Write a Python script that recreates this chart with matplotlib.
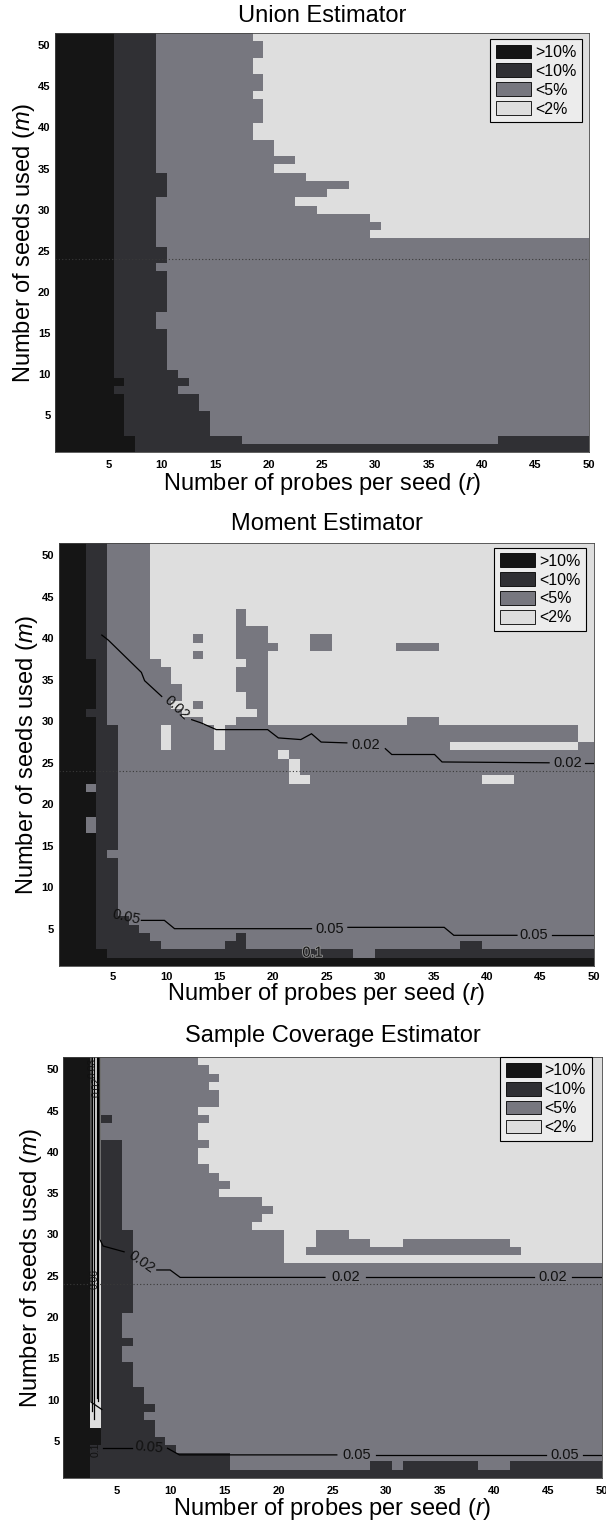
import numpy as np
import matplotlib
matplotlib.use("Agg")
import matplotlib.pyplot as plt
from matplotlib.colors import ListedColormap, BoundaryNorm
from matplotlib.patches import Patch
import matplotlib.patheffects as pe

plt.rcParams['font.family'] = ['Liberation Sans', 'DejaVu Sans']
plt.rcParams['mathtext.fontset'] = 'custom'
plt.rcParams['mathtext.it'] = 'Liberation Sans:italic'
plt.rcParams['mathtext.rm'] = 'Liberation Sans'

W, H, DPI = 606, 1527, 100

# grid axes
probes = np.arange(1, 51)   # r
seeds = np.arange(1, 52)    # m
tick_values = [5, 10, 15, 20, 25, 30, 35, 40, 45, 50]

# error classes (0 worst .. 3 best)
level_labels = ['>10%', '<10%', '<5%', '<2%']
level_colors = ['#151515', '#303034', '#77777f', '#dedede']

# Each row: "level@last_column" runs, listed from the top row (m=51) down to m=1.
union_rows = [
    (1, "0@5 1@9 2@18 3@50"),
    (2, "0@5 1@9 2@19 3@50"),
    (2, "0@5 1@9 2@18 3@50"),
    (2, "0@5 1@9 2@19 3@50"),
    (1, "0@5 1@9 2@18 3@50"),
    (3, "0@5 1@9 2@19 3@50"),
    (2, "0@5 1@9 2@18 3@50"),
    (2, "0@5 1@9 2@20 3@50"),
    (1, "0@5 1@9 2@22 3@50"),
    (1, "0@5 1@9 2@20 3@50"),
    (1, "0@5 1@10 2@23 3@50"),
    (1, "0@5 1@10 2@27 3@50"),
    (1, "0@5 1@10 2@25 3@50"),
    (1, "0@5 1@9 2@22 3@50"),
    (1, "0@5 1@9 2@24 3@50"),
    (1, "0@5 1@9 2@29 3@50"),
    (1, "0@5 1@9 2@30 3@50"),
    (1, "0@5 1@9 2@29 3@50"),
    (1, "0@5 1@9 2@50"),
    (2, "0@5 1@10 2@50"),
    (1, "0@5 1@9 2@50"),
    (5, "0@5 1@10 2@50"),
    (2, "0@5 1@9 2@50"),
    (5, "0@5 1@10 2@50"),
    (1, "0@5 1@11 2@50"),
    (1, "0@6 1@12 2@50"),
    (1, "0@5 1@11 2@50"),
    (2, "0@6 1@13 2@50"),
    (3, "0@6 1@14 2@50"),
    (1, "0@7 1@17 2@41 1@50"),
    (1, "0@7 1@50"),
]

moment_rows = [
    (8, "0@2 1@4 2@8 3@50"),
    (2, "0@2 1@4 2@8 3@16 2@17 3@50"),
    (1, "0@2 1@4 2@8 3@16 2@19 3@50"),
    (1, "0@2 1@4 2@8 3@12 2@13 3@16 2@19 3@23 2@25 3@50"),
    (1, "0@2 1@4 2@8 3@16 2@20 3@23 2@25 3@31 2@35 3@50"),
    (1, "0@2 1@4 2@8 3@12 2@13 3@16 2@19 3@50"),
    (1, "0@3 1@4 2@9 3@17 2@19 3@50"),
    (2, "0@3 1@4 2@10 3@16 2@19 3@50"),
    (1, "0@3 1@4 2@11 3@16 2@19 3@50"),
    (1, "0@3 1@4 2@11 3@17 2@19 3@50"),
    (1, "0@3 1@4 2@10 3@12 2@13 3@17 2@19 3@50"),
    (1, "0@2 1@4 2@11 3@18 2@19 3@50"),
    (1, "0@3 1@4 2@13 3@16 2@19 3@32 2@35 3@50"),
    (2, "0@3 1@5 2@9 3@10 2@14 3@15 2@48 3@50"),
    (1, "0@3 1@5 2@9 3@10 2@14 3@15 2@36 3@48 2@50"),
    (1, "0@3 1@5 2@20 3@21 2@50"),
    (2, "0@3 1@5 2@21 3@22 2@50"),
    (1, "0@3 1@5 2@21 3@23 2@39 3@42 2@50"),
    (1, "0@2 2@3 1@5 2@50"),
    (3, "0@3 1@5 2@50"),
    (2, "0@2 2@3 1@5 2@50"),
    (2, "0@3 1@5 2@50"),
    (1, "0@3 1@4 2@50"),
    (7, "0@3 1@5 2@50"),
    (1, "0@3 1@6 2@50"),
    (1, "0@3 1@7 2@50"),
    (1, "0@3 1@8 2@16 1@17 2@50"),
    (1, "0@3 1@9 2@15 1@17 2@37 1@39 2@50"),
    (1, "0@4 1@27 2@29 1@50"),
    (1, "0@50"),
]

coverage_rows = [
    (1, "0@2 3@3 2@12 3@50"),
    (1, "0@2 3@3 2@13 3@50"),
    (1, "0@2 3@3 2@14 3@50"),
    (1, "0@2 3@3 2@13 3@50"),
    (2, "0@2 3@3 2@14 3@50"),
    (1, "0@2 3@3 2@12 3@50"),
    (1, "0@2 3@3 1@4 2@13 3@50"),
    (2, "0@2 3@3 2@12 3@50"),
    (1, "0@2 3@3 1@5 2@13 3@50"),
    (2, "0@2 3@3 1@5 2@12 3@50"),
    (1, "0@2 3@3 1@5 2@13 3@50"),
    (1, "0@2 3@3 1@5 2@14 3@50"),
    (1, "0@2 3@3 1@5 2@15 3@50"),
    (1, "0@2 3@3 1@5 2@14 3@50"),
    (1, "0@2 3@3 1@5 2@18 3@50"),
    (1, "0@2 3@3 1@5 2@19 3@50"),
    (1, "0@2 3@3 1@5 2@18 3@50"),
    (1, "0@2 3@3 1@5 2@17 3@50"),
    (1, "0@2 3@3 1@6 2@20 3@23 2@26 3@50"),
    (1, "0@2 3@3 1@6 2@20 3@23 2@28 3@31 2@41 3@50"),
    (1, "0@2 3@3 1@6 2@20 3@22 2@42 3@50"),
    (1, "0@2 3@3 1@6 2@20 3@50"),
    (6, "0@2 3@3 1@6 2@50"),
    (3, "0@2 3@3 1@5 2@50"),
    (1, "0@2 3@3 1@6 2@50"),
    (2, "0@2 3@3 1@5 2@50"),
    (3, "0@2 3@3 1@6 2@50"),
    (2, "0@2 3@3 1@7 2@50"),
    (1, "0@2 3@3 1@8 2@50"),
    (1, "0@2 3@3 1@7 2@50"),
    (1, "0@2 3@3 1@8 2@50"),
    (1, "0@3 1@8 2@50"),
    (1, "0@3 1@9 2@50"),
    (1, "0@2 1@10 2@50"),
    (1, "0@2 1@15 2@50"),
    (1, "0@2 1@15 2@28 1@30 2@31 1@38 2@41 1@50"),
    (1, "0@2 1@50"),
]

# dotted reference level of m
ref_seed_level = 24

# contour polylines (r, m) and their labels (r, m, rotation)
moment_c02_lines = [
    [(4.0, 40.4), (4.6, 39.8), (7.7, 35.9), (8.0, 34.9), (9.6, 33.0)],
    [(12.4, 30.2), (13.3, 29.8), (14.7, 29.0), (19.5, 29.0), (20.5, 28.0),
     (22.6, 27.8), (23.6, 28.5), (24.5, 27.5), (26.9, 27.4)],
    [(30.5, 26.7), (31.1, 26.0), (35.1, 26.0), (35.8, 25.1), (45.8, 25.0)],
    [(49.2, 25.0), (50.0, 25.0)],
]
moment_c02_labels = [(11.0, 31.6, -43), (28.7, 27.1, 0), (47.5, 25.0, 0)]
moment_c05_lines = [
    [(7.7, 6.0), (9.85, 6.0), (10.8, 5.0), (23.6, 5.0)],
    [(27.0, 5.16), (36.0, 5.16), (36.9, 4.2), (42.8, 4.2)],
    [(46.1, 4.2), (50.0, 4.2)],
]
moment_c05_labels = [(6.3, 6.4, -12), (25.3, 5.0, 0), (44.4, 4.2, 0)]
moment_c10_labels = [(23.7, 2.1, 0)]

coverage_c02_lines = [
    [(3.42, 51.5), (3.42, 29.4), (3.72, 28.6), (5.67, 27.9)],
    [(8.7, 25.7), (9.94, 25.7), (10.87, 24.8), (24.3, 24.8)],
    [(28.1, 24.8), (43.7, 24.8)],
    [(47.2, 24.8), (50.0, 24.8)],
]
coverage_c02_labels = [(7.3, 26.7, -35), (26.2, 24.8, 0), (45.45, 24.8, 0)]
coverage_c05_lines = [
    [(3.7, 4.1), (6.4, 4.1)],
    [(9.7, 4.1), (10.8, 3.3), (25.4, 3.3)],
    [(29.0, 3.3), (44.8, 3.3)],
    [(48.2, 3.3), (50.0, 3.3)],
]
coverage_c05_labels = [(8.0, 4.2, -5), (27.2, 3.3, 0), (46.5, 3.3, 0)]
# tightly packed contours squeezed into the r=3 column
coverage_strip_lines = [
    [(2.6, 51.5), (2.6, 9.7), (3.6, 8.8)],
    [(2.72, 51.5), (2.72, 8.6)],
    [(2.84, 51.5), (2.84, 7.6)],
    [(3.16, 51.5), (3.16, 10.2)],
    [(3.29, 51.5), (3.29, 9.8)],
]
coverage_strip_labels = [(2.78, 50.2, '0.03'), (3.12, 47.9, '0.02'),
                         (2.95, 24.6, '0.06'), (3.05, 3.9, '0.1')]


def expand(spec_rows):
    rows = []
    for count, spec in spec_rows:
        row = np.empty(len(probes), dtype=int)
        start = 0
        for tok in spec.split():
            lvl, end = tok.split('@')
            row[start:int(end)] = int(lvl)
            start = int(end)
        rows.extend([row] * count)
    grid = np.array(rows[::-1])
    assert grid.shape == (len(seeds), len(probes))
    return grid


def contour_labels(items, text, size=10.5, halo=False):
    return [(x, y, text, rot, size, halo) for x, y, rot in items]


panels = [
    dict(title="Union Estimator", rows=union_rows, rect=(55, 33, 589, 452),
         title_pad=8.1, xlab_drop=38, ylab_base=30, xtick_pad=5.5, ytick_pad=3.2,
         legend_corner=(582, 39), lines=[], labels=[]),
    dict(title="Moment Estimator", rows=moment_rows, rect=(59, 543, 594, 966),
         title_pad=9.2, xlab_drop=34, ylab_base=33, xtick_pad=4.0, ytick_pad=3.6,
         legend_corner=(586, 547.7),
         lines=moment_c02_lines + moment_c05_lines,
         labels=contour_labels(moment_c02_labels, '0.02')
         + contour_labels(moment_c05_labels, '0.05')
         + contour_labels(moment_c10_labels, '0.1', halo=True)),
    dict(title="Sample Coverage Estimator", rows=coverage_rows, rect=(63, 1057, 602, 1478),
         title_pad=10.8, xlab_drop=37, ylab_base=37, xtick_pad=6.0, ytick_pad=2.5,
         legend_corner=(591.7, 1057.3),
         lines=coverage_c02_lines + coverage_c05_lines + coverage_strip_lines,
         labels=contour_labels(coverage_c02_labels, '0.02')
         + contour_labels(coverage_c05_labels, '0.05')
         + [(x, y, t, 90, 7.5, False) for x, y, t in coverage_strip_labels]),
]

cmap = ListedColormap(level_colors)
norm = BoundaryNorm(np.arange(-0.5, len(level_colors)), cmap.N)

r_edges = np.concatenate([[0.0], probes[1:] - 0.5, [probes[-1] + 0.5]])
m_edges = np.concatenate([seeds - 0.5, [seeds[-1] + 0.5]])

fig = plt.figure(figsize=(W / DPI, H / DPI), dpi=DPI)
fig.patch.set_facecolor('white')

for p in panels:
    l, t, r, b = p['rect']
    ax = fig.add_axes([l / W, 1 - b / H, (r - l) / W, (b - t) / H])
    grid = expand(p['rows'])
    ax.pcolormesh(r_edges, m_edges, grid, cmap=cmap, norm=norm,
                  shading='flat', edgecolors='none', antialiased=False)
    ax.plot([0, 50], [ref_seed_level, ref_seed_level], color='#3a3a3a',
            lw=0.8, ls=(0, (1, 2)))
    for seg in p['lines']:
        xs, ys = zip(*seg)
        ax.plot(xs, ys, color='black', lw=0.9, solid_joinstyle='miter')
    for x, y, text, rot, size, halo in p['labels']:
        txt = ax.text(x, y, text, fontsize=size, rotation=rot, ha='center',
                      va='center', rotation_mode='anchor', color='#111111')
        if halo:
            txt.set_path_effects([pe.withStroke(linewidth=1.4, foreground='#8e8e8e')])

    ax.set_xlim(0, 50)
    ax.set_ylim(0.5, 51.5)
    ax.set_xticks(tick_values)
    ax.set_yticks(tick_values)
    ax.tick_params(axis='x', length=0, pad=p['xtick_pad'], labelsize=8)
    ax.tick_params(axis='y', length=0, pad=p['ytick_pad'], labelsize=8)
    for lab in ax.get_xticklabels() + ax.get_yticklabels():
        lab.set_fontweight('bold')
    for sp in ax.spines.values():
        sp.set_color('#444444')
        sp.set_linewidth(0.6)

    ax.set_title(p['title'], fontsize=17, pad=p['title_pad'])
    ax.set_xlabel(r'Number of probes per seed ($\it{r}$)', fontsize=17)
    ax.set_ylabel(r'Number of seeds used ($\it{m}$)', fontsize=17)
    ax.xaxis.label.set_va('baseline')
    ax.xaxis.set_label_coords(0.5, -p['xlab_drop'] / (b - t))
    ax.yaxis.label.set_va('baseline')
    ax.yaxis.set_label_coords((p['ylab_base'] - l) / (r - l), 0.5)

    handles = [Patch(facecolor=c, edgecolor='black', linewidth=0.6, label=lab)
               for c, lab in zip(level_colors, level_labels)]
    lx, ly = p['legend_corner']
    leg = ax.legend(handles=handles, loc='upper right',
                    bbox_to_anchor=((lx - l) / (r - l), 1 - (ly - t) / (b - t)),
                    fontsize=11.5, handlelength=2.2, handleheight=0.95,
                    labelspacing=0.22, handletextpad=0.25, borderpad=0.35,
                    borderaxespad=0.0, fancybox=False, framealpha=1.0)
    leg.get_frame().set_edgecolor('black')
    leg.get_frame().set_linewidth(0.8)
    leg.get_frame().set_facecolor('#ececec')

fig.savefig('out.png', dpi=DPI)
